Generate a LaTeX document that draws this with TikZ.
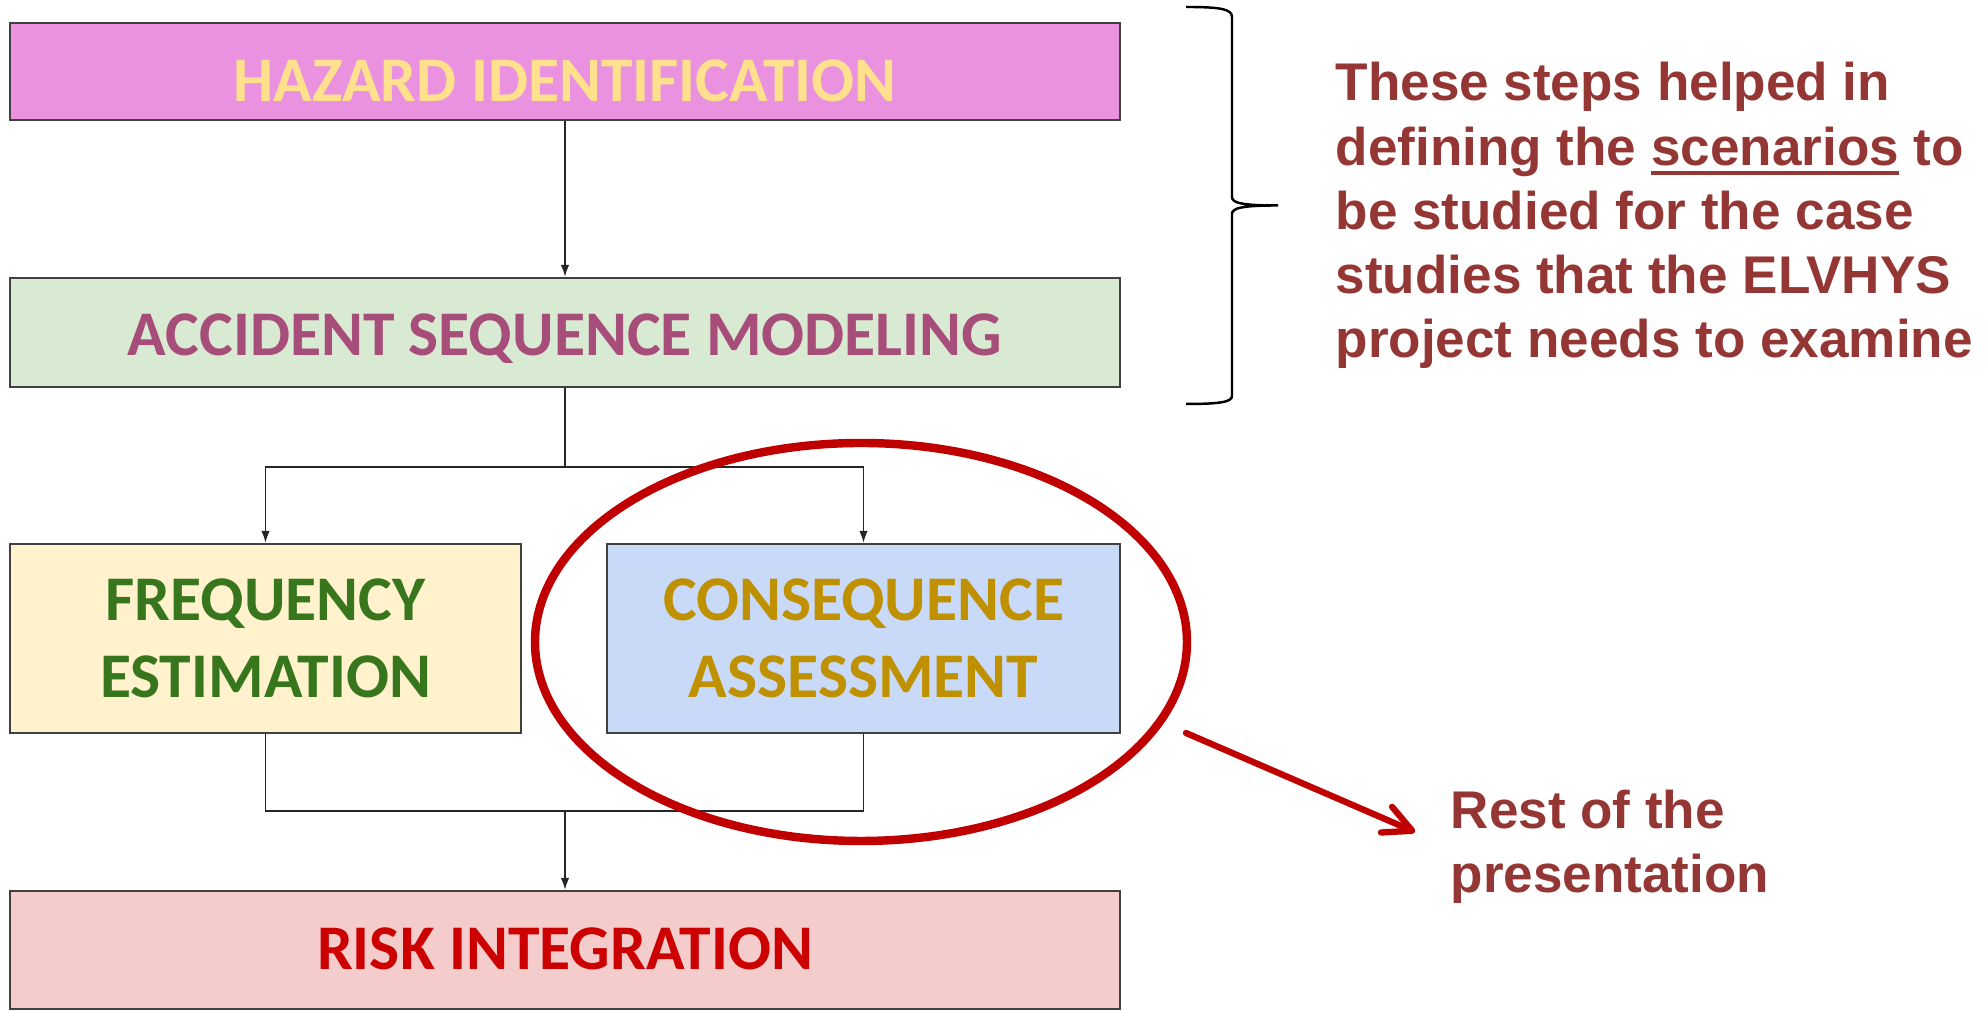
\documentclass[tikz,border=0pt]{standalone}
\usepackage{fontspec}
\setmainfont{Liberation Sans}
\newfontfamily\calibri{Carlito}
\usetikzlibrary{arrows.meta,shapes.geometric}

\definecolor{hazfill}{HTML}{EA91E0}
\definecolor{haztext}{HTML}{FFE08C}
\definecolor{asmfill}{HTML}{D9EAD3}
\definecolor{asmtext}{HTML}{A64D79}
\definecolor{freqfill}{HTML}{FFF2CC}
\definecolor{freqtext}{HTML}{38761D}
\definecolor{consfill}{HTML}{C9DAF8}
\definecolor{constext}{HTML}{BF9000}
\definecolor{riskfill}{HTML}{F4CCCC}
\definecolor{risktext}{HTML}{CC0000}
\definecolor{hilite}{HTML}{C00000}
\definecolor{note}{HTML}{943634}

\newcommand{\thickul}[1]{\setbox0\hbox{#1}\rlap{\rule[-2.85pt]{\wd0}{1.14pt}}\box0\relax}

\begin{document}
\begin{tikzpicture}[
  stage/.style={draw=black!75, line width=0.6pt, inner sep=0pt, text depth=0pt,
    font=\calibri\bfseries\fontsize{18.1}{21.9}\selectfont},
  link/.style={black!85, line width=0.5pt},
  flow/.style={link, -{Latex[length=3.4pt,width=2.4pt]}},
  remark/.style={anchor=base west, align=left, inner sep=0pt, text=note,
    font=\bfseries\fontsize{15.1}{18.3}\selectfont}]
\useasboundingbox (0,0) rectangle (19.88,10.11);

\node[stage, fill=hazfill, text=haztext, minimum width=11.10cm, minimum height=0.97cm, text height=0.61cm] (haz) at (5.65,9.395) {HAZARD IDENTIFICATION};
\node[stage, fill=asmfill, text=asmtext, minimum width=11.10cm, minimum height=1.09cm, text height=0.47cm] (asm) at (5.65,6.785) {ACCIDENT SEQUENCE MODELING};
\node[stage, fill=freqfill, text=freqtext, minimum width=5.11cm, minimum height=1.89cm, align=center] (freq) at (2.655,3.725) {FREQUENCY\\ESTIMATION};
\node[stage, fill=consfill, text=constext, minimum width=5.13cm, minimum height=1.89cm, align=center] (cons) at (8.635,3.725) {CONSEQUENCE\\ASSESSMENT};
\node[stage, fill=riskfill, text=risktext, minimum width=11.10cm, minimum height=1.18cm, text height=0.40cm] (risk) at (5.65,0.61) {RISK INTEGRATION};

\coordinate (split) at (5.65,5.44);
\coordinate (merge) at (5.65,2.00);
\draw[flow] (haz) -- (asm);
\draw[link] (asm) -- (split);
\draw[flow] (split) -| (freq);
\draw[flow] (split) -| (cons);
\draw[link] (freq) |- (merge) -| (cons);
\draw[flow] (merge) -- (risk);

\node[ellipse, draw=hilite, line width=2.4pt, minimum width=6.52cm, minimum height=3.98cm] (focus) at (8.61,3.69) {};

\draw[line width=0.7pt] (11.86,10.04) .. controls (12.20,10.04) and (12.32,10.02) .. (12.32,9.94)
  -- (12.32,8.14) .. controls (12.32,8.08) and (12.42,8.055) .. (12.78,8.055)
  .. controls (12.42,8.055) and (12.32,8.03) .. (12.32,7.97)
  -- (12.32,6.15) .. controls (12.32,6.09) and (12.20,6.07) .. (11.86,6.07);

\node[remark] (steps) at (13.35,6.53) {These steps helped in\\defining the \thickul{scenarios} to\\be studied for the case\\studies that the ELVHYS\\project needs to examine};
\node[remark] (rest) at (14.50,1.18) {Rest of the\\presentation};

\coordinate (tail) at (11.86,2.78);
\draw[hilite, line width=1.8pt, line cap=round, shorten >=0.38cm,
  -{Straight Barb[length=0.28cm,width=0.28cm,round]}] (tail) -- (rest.west);
\end{tikzpicture}
\end{document}
